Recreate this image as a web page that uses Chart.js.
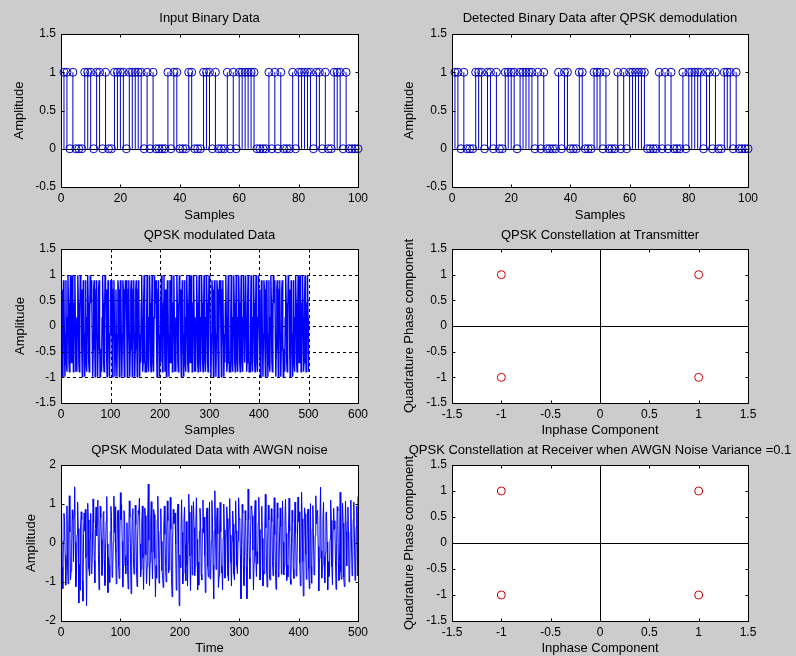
<!DOCTYPE html>
<html><head><meta charset="utf-8">
<script src="https://cdn.jsdelivr.net/npm/chart.js@4"></script>
<style>
html,body{margin:0;padding:0;width:796px;height:656px;overflow:hidden;background:#cccccc;}
canvas{position:absolute;}
</style></head><body>
<script>
// ---------- DATA ----------
const binarySamples = Array.from({length:100},(_, i)=>i+1);
const inputBits = [
1,1,0,1,0,0,0,1,1,1,
0,1,1,0,1,0,0,1,1,1,
1,0,1,1,1,1,1,0,1,0,
1,0,0,0,0,1,0,1,1,0,
0,0,1,1,0,0,0,1,1,1,
0,1,0,0,0,1,0,1,0,1,
1,1,1,1,1,0,0,0,0,1,
0,1,0,1,0,0,0,1,0,1,
1,1,1,1,0,1,1,0,1,0,
0,1,1,1,0,1,0,0,0,0];
const detectedBits = [
1,1,0,1,0,0,0,1,1,1,
0,1,1,0,1,0,0,1,1,1,
1,0,1,1,1,1,1,0,1,0,
1,0,0,0,0,1,0,1,1,0,
0,0,1,1,0,0,0,1,1,1,
0,1,0,0,0,1,0,1,0,1,
1,1,1,1,1,0,0,0,0,1,
0,1,0,1,0,0,0,1,0,1,
1,1,1,1,0,1,1,0,1,0,
0,1,1,1,0,1,0,0,0,0];
const binaryXTicks = [0,20,40,60,80,100];
const binaryYTicks = [-0.5,0,0.5,1,1.5];

const txSignal = [
.71,-.45,-.99,-.16,.89,.71,-.45,-.99,-.16,.89,
-.71,-.89,.16,.99,.45,-.71,-.89,.16,.99,.45,
-.71,.45,.99,.16,-.89,-.71,.45,.99,.16,-.89,
-.71,-.89,.16,.99,.45,-.71,-.89,.16,.99,.45,
.71,-.45,-.99,-.16,.89,.71,-.45,-.99,-.16,.89,
-.71,-.89,.16,.99,.45,-.71,-.89,.16,.99,.45,
.71,.89,-.16,-.99,-.45,.71,.89,-.16,-.99,-.45,
.71,.89,-.16,-.99,-.45,.71,.89,-.16,-.99,-.45,
-.71,-.89,.16,.99,.45,-.71,-.89,.16,.99,.45,
.71,-.45,-.99,-.16,.89,.71,-.45,-.99,-.16,.89,
.71,.89,-.16,-.99,-.45,.71,.89,-.16,-.99,-.45,
.71,-.45,-.99,-.16,.89,.71,-.45,-.99,-.16,.89,
.71,-.45,-.99,-.16,.89,.71,-.45,-.99,-.16,.89,
.71,.89,-.16,-.99,-.45,.71,.89,-.16,-.99,-.45,
.71,.89,-.16,-.99,-.45,.71,.89,-.16,-.99,-.45,
.71,.89,-.16,-.99,-.45,.71,.89,-.16,-.99,-.45,
-.71,.45,.99,.16,-.89,-.71,.45,.99,.16,-.89,
-.71,-.89,.16,.99,.45,-.71,-.89,.16,.99,.45,
-.71,-.89,.16,.99,.45,-.71,-.89,.16,.99,.45,
.71,.89,-.16,-.99,-.45,.71,.89,-.16,-.99,-.45,
-.71,.45,.99,.16,-.89,-.71,.45,.99,.16,-.89,
.71,-.45,-.99,-.16,.89,.71,-.45,-.99,-.16,.89,
-.71,.45,.99,.16,-.89,-.71,.45,.99,.16,-.89,
-.71,-.89,.16,.99,.45,-.71,-.89,.16,.99,.45,
.71,-.45,-.99,-.16,.89,.71,-.45,-.99,-.16,.89,
-.71,-.89,.16,.99,.45,-.71,-.89,.16,.99,.45,
-.71,.45,.99,.16,-.89,-.71,.45,.99,.16,-.89,
-.71,-.89,.16,.99,.45,-.71,-.89,.16,.99,.45,
-.71,-.89,.16,.99,.45,-.71,-.89,.16,.99,.45,
-.71,-.89,.16,.99,.45,-.71,-.89,.16,.99,.45,
.71,-.45,-.99,-.16,.89,.71,-.45,-.99,-.16,.89,
.71,-.45,-.99,-.16,.89,.71,-.45,-.99,-.16,.89,
.71,.89,-.16,-.99,-.45,.71,.89,-.16,-.99,-.45,
-.71,.45,.99,.16,-.89,-.71,.45,.99,.16,-.89,
-.71,-.89,.16,.99,.45,-.71,-.89,.16,.99,.45,
-.71,-.89,.16,.99,.45,-.71,-.89,.16,.99,.45,
-.71,-.89,.16,.99,.45,-.71,-.89,.16,.99,.45,
-.71,.45,.99,.16,-.89,-.71,.45,.99,.16,-.89,
-.71,-.89,.16,.99,.45,-.71,-.89,.16,.99,.45,
-.71,-.89,.16,.99,.45,-.71,-.89,.16,.99,.45,
.71,-.45,-.99,-.16,.89,.71,-.45,-.99,-.16,.89,
.71,-.45,-.99,-.16,.89,.71,-.45,-.99,-.16,.89,
-.71,-.89,.16,.99,.45,-.71,-.89,.16,.99,.45,
.71,.89,-.16,-.99,-.45,.71,.89,-.16,-.99,-.45,
.71,.89,-.16,-.99,-.45,.71,.89,-.16,-.99,-.45,
-.71,-.89,.16,.99,.45,-.71,-.89,.16,.99,.45,
.71,-.45,-.99,-.16,.89,.71,-.45,-.99,-.16,.89,
-.71,-.89,.16,.99,.45,-.71,-.89,.16,.99,.45,
-.71,.45,.99,.16,-.89,-.71,.45,.99,.16,-.89,
-.71,.45,.99,.16,-.89,-.71,.45,.99,.16,-.89];
const txXTicks = [0,100,200,300,400,500,600];
const txYTicks = [-1.5,-1,-0.5,0,0.5,1,1.5];

const rxSignal = [
.82,-.61,-1.17,.05,.76,.58,-.31,-1.08,-.42,.95,
-.62,-1.05,.33,1.21,.28,-.94,-.72,-.08,.85,.61,
-.48,.72,1.44,.02,-1.12,-.83,.21,1.05,.37,-1.54,
-.55,-1.21,.41,.8,.6,-.97,-1.49,.24,.77,.31,
.86,-.38,-1.61,-.31,1.02,.59,-.66,-.84,.12,.76,
-.79,-.74,-.05,1.13,.52,-.45,-1.02,.37,.92,.18,
.49,1.1,-.29,-1.2,-.21,.94,.66,.09,-.83,-.63,
.77,.81,-.43,-1.09,-.17,.55,1.19,-.02,-1.27,-.36,
-.58,-1.01,.29,.94,.68,-.88,-.7,.02,1.2,.27,
.93,-.24,-1.05,-.37,.69,.84,-.58,-.91,.11,1.29,
.6,.98,.04,-1.13,-.59,.83,.71,-.35,-.79,-.3,
.52,-.6,-1.18,-.01,1.08,.66,-.27,-1.3,-.22,.74,
.88,-.49,-.8,-.35,.97,.47,-.62,-1.12,.06,.83,
.74,1.15,-.02,-.87,-.66,.52,.95,-.39,-1.19,-.25,
.9,.7,-.31,-1.04,-.6,.63,1.51,.07,-1.1,-.49,
.55,1.06,-.24,-.92,-.21,.86,.73,-.4,-1.38,-.58,
-.9,.6,1.2,.31,-1.03,-.52,.3,.88,.04,-.71,
-.84,-1.14,.35,.95,.22,-.6,-1,.28,1.08,.57,
-.77,-.69,.01,1.17,.36,-.89,-1.38,.12,.86,.5,
.62,.77,-.03,-1.21,-.64,.88,1,-.27,-1.61,-.3,
-.63,.29,1.11,.27,-1.05,-.78,.58,.92,-.05,-.97,
.55,-.57,-1.1,.03,1.25,.79,-.33,-1.22,-.28,.96,
-.82,.37,1.06,.4,-.84,-.6,.54,1.16,.1,-1.2,
-.49,-1.08,.3,.89,.62,-.8,-.95,.36,1.1,.26,
.66,-.32,-1.27,-.2,.81,.9,-.6,-.87,.02,1.05,
-.92,-.83,.05,1.09,.59,-.56,-1.43,.3,1.34,.4,
-.68,.62,.9,.23,-1.14,-.85,.36,1.04,.29,-.77,
-.6,-1.2,.13,1,.34,-.9,-.66,.21,.93,.63,
-.83,-.97,.42,1.14,.2,-.5,-1.1,.04,.82,.48,
-.8,-.95,.26,1.08,.31,-.58,-.79,.05,1.16,.6,
.62,-.3,-1.43,-.07,.99,.77,-.58,-1.09,-.35,.83,
.58,-.61,-1.43,-.25,1.38,.6,-.39,-.92,.09,.95,
.89,.7,-.18,-1.2,-.5,.77,1.09,-.33,-.86,-.22,
-.53,.51,1.17,.35,-.95,-.81,.27,.94,.12,-1.1,
-.7,-.79,.28,1.25,.39,-.64,-1.13,.05,.97,.59,
-.91,-.95,.2,.88,.55,-.47,-.84,.3,1.16,.21,
-.66,-1.19,.09,1.03,.63,-.87,-.71,.23,.9,.42,
-.8,.31,1.08,.02,-.82,-.58,.6,1.12,.25,-.96,
-.57,-.87,.38,1.15,.3,-.93,-1.06,-.02,.84,.54,
-.67,-.91,.3,1.05,.26,-.85,-.74,.1,1.18,.54,
.8,-.52,-1.1,-.19,1.3,.62,-.47,-1.36,-.04,.9,
.74,-.28,-.93,-.31,.81,.87,-.66,-1.17,-.15,1.01,
-.6,-1.03,.34,.96,.27,-.82,-.79,.19,1.21,.49,
.81,.84,-.09,-1.23,-.4,.58,1.43,-.2,-.9,-.57,
.6,1.04,-.35,-1.02,-.25,.77,.8,.03,-1.2,-.48,
-.86,-.72,.1,1.1,.58,-.6,-1.07,.33,.89,.36,
.57,-.41,-1.19,-.02,.93,.82,-.55,-.96,-.28,1.3,
-.74,-.93,.26,1.02,.51,-.88,-1.12,.08,1.07,.3,
-.59,.55,.92,.3,-1,-.83,.28,1.1,.05,-.84,
-.7,.6,1.05,.18,-.96,-.62,.4,.95,-.84,1.2];
const rxXTicks = [0,100,200,300,400,500];
const rxYTicks = [-2,-1,0,1,2];

const txConstI = [-1, 1, -1, 1];
const txConstQ = [1, 1, -1, -1];
const rxConstI = [-1, 1, -1, 1];
const rxConstQ = [1, 1, -1, -1];
const constTicks = [-1.5,-1,-0.5,0,0.5,1,1.5];

// ---------- STYLE / HELPERS ----------
const FAMILY = '"Liberation Sans", Arial, Helvetica, sans-serif';
const FONT = {family:FAMILY, size:12, weight:'normal'};
const TFONT = {family:FAMILY, size:13, weight:'normal'};
const TH = 13*1.2/2; // half line height of title fonts
const BLUE = '#0000ff', STEM = '#0000c4', RED = '#cc0000';
const fmt = v => String(Math.round(v*100)/100);
const px = v => Math.round(v) + 0.5;
function seg(c,x1,y1,x2,y2){c.beginPath();c.moveTo(x1,y1);c.lineTo(x2,y2);c.stroke();}

const matlabAxes = {
  id:'matlabAxes',
  beforeDraw(chart){
    const a=chart.chartArea,c=chart.ctx;
    c.save();c.fillStyle='#ffffff';c.fillRect(a.left,a.top,a.right-a.left,a.bottom-a.top);c.restore();
  },
  beforeDatasetsDraw(chart,args,o){
    const a=chart.chartArea,c=chart.ctx,xs=chart.scales.x,ys=chart.scales.y;
    c.save();c.lineWidth=1;c.strokeStyle='#000';
    if(o.grid){
      c.setLineDash([3,3]);
      xs.ticks.forEach(t=>{const p=xs.getPixelForValue(t.value);if(p>a.left+1&&p<a.right-1)seg(c,px(p),a.top,px(p),a.bottom);});
      ys.ticks.forEach(t=>{const p=ys.getPixelForValue(t.value);if(p>a.top+1&&p<a.bottom-1)seg(c,a.left,px(p),a.right,px(p));});
      c.setLineDash([]);
    }
    if(o.zeroY){const p=px(ys.getPixelForValue(0));seg(c,a.left,p,a.right,p);}
    if(o.zeroX){const p=px(xs.getPixelForValue(0));seg(c,p,a.top,p,a.bottom);}
    c.restore();
  },
  afterDatasetsDraw(chart){
    const a=chart.chartArea,c=chart.ctx,xs=chart.scales.x,ys=chart.scales.y,tl=3;
    const l=px(a.left),r=px(a.right),t=px(a.top),b=px(a.bottom);
    c.save();c.lineWidth=1;c.strokeStyle='#000';
    c.strokeRect(l,t,r-l,b-t);
    xs.ticks.forEach(k=>{const p=px(xs.getPixelForValue(k.value));if(p>l+1&&p<r-1){seg(c,p,b,p,b-tl);seg(c,p,t,p,t+tl);}});
    ys.ticks.forEach(k=>{const p=px(ys.getPixelForValue(k.value));if(p>t+1&&p<b-1){seg(c,l,p,l+tl,p);seg(c,r,p,r-tl,p);}});
    c.restore();
  }
};

function stemSets(xs, ys){
  const stems=[];
  xs.forEach((x,i)=>{stems.push({x,y:0},{x,y:ys[i]},{x,y:null});});
  return [
    {data:xs.map((x,i)=>({x,y:ys[i]})),showLine:false,pointStyle:'circle',pointRadius:4,
     pointBorderWidth:1,pointBorderColor:STEM,pointBackgroundColor:'rgba(0,0,0,0)',clip:false},
    {data:stems,showLine:true,spanGaps:false,borderColor:STEM,borderWidth:1,pointRadius:0}
  ];
}
function lineSet(ys,w){
  return [{data:ys.map((y,i)=>({x:i+1,y})),showLine:true,borderColor:BLUE,borderWidth:w,pointRadius:0,tension:0}];
}
function constSet(I,Q){
  return [{data:I.map((x,i)=>({x,y:Q[i]})),showLine:false,pointStyle:'circle',pointRadius:4,
    pointBorderWidth:1,pointBorderColor:RED,pointBackgroundColor:'rgba(0,0,0,0)',clip:false}];
}

const panels = [
 {L:61,T:34,W:297,B:187,ty:18,xy:215,yt:19.7,title:'Input Binary Data',xt:'Samples',ytl:'Amplitude',
  x:[0,100,binaryXTicks],y:[-0.5,1.5,binaryYTicks],ds:stemSets(binarySamples,inputBits),ax:{zeroY:true}},
 {L:452,T:34,W:296,B:187,ty:18,xy:215,yt:18.5,title:'Detected Binary Data after QPSK demodulation',xt:'Samples',ytl:'Amplitude',
  x:[0,100,binaryXTicks],y:[-0.5,1.5,binaryYTicks],ds:stemSets(binarySamples,detectedBits),ax:{zeroY:true}},
 {L:61,T:249,W:297,B:403,ty:235,xy:430,yt:20,title:'QPSK modulated Data',xt:'Samples',ytl:'Amplitude',
  x:[0,600,txXTicks],y:[-1.5,1.5,txYTicks],ds:lineSet(txSignal,1.4),ax:{grid:true}},
 {L:452,T:249,W:296,B:403,ty:235,xy:430,yt:18.5,title:'QPSK Constellation at Transmitter',xt:'Inphase Component',ytl:'Quadrature Phase component',
  x:[-1.5,1.5,constTicks],y:[-1.5,1.5,constTicks],ds:constSet(txConstI,txConstQ),ax:{zeroX:true,zeroY:true}},
 {L:61,T:465,W:297,B:621,ty:450.7,xy:648,yt:31,title:'QPSK Modulated Data with AWGN noise',xt:'Time',ytl:'Amplitude',
  x:[0,500,rxXTicks],y:[-2,2,rxYTicks],ds:lineSet(rxSignal,1),ax:{}},
 {L:452,T:465,W:296,B:621,ty:450.7,xy:648,yt:18.5,title:'QPSK Constellation at Receiver when AWGN Noise Variance =0.1',xt:'Inphase Component',ytl:'Quadrature Phase component',
  x:[-1.5,1.5,constTicks],y:[-1.5,1.5,constTicks],ds:constSet(rxConstI,rxConstQ),ax:{zeroX:true,zeroY:true}}
];

const M = 61; // side margin of each canvas around its plot box
function axisOpts(range,title,isX,p,H){
  const ticks=range[2];
  const o={type:'linear',min:range[0],max:range[1],
    afterBuildTicks:s=>{s.ticks=ticks.map(v=>({value:v}));},
    ticks:{font:FONT,color:'#000',padding:isX?4.8:5,autoSkip:false,maxRotation:0,minRotation:0,callback:v=>fmt(v)},
    grid:{display:false,drawTicks:false},border:{display:false},
    title:{display:true,text:title,font:TFONT,color:'#000',padding:isX?{top:0,bottom:0}:{top:p.yt-TH,bottom:0}}};
  if(isX){o.position='bottom';o.afterFit=s=>{s.height=H;};}
  else{o.position='left';o.afterFit=s=>{s.width=M;};}
  return o;
}
// empty right-side spacer axis so the title centres on the plot box
const spacerAxis = {type:'linear',position:'right',min:0,max:1,display:true,
  ticks:{display:false},grid:{display:false,drawTicks:false},border:{display:false},
  afterFit:s=>{s.width=M;}};

panels.forEach(p=>{
  const cv=document.createElement('canvas');
  const left=p.L-M, top=p.T-34, H=p.xy+TH-p.B;
  const width=M+p.W+M, height=Math.ceil(34+(p.B-p.T)+H+8);
  cv.width=width;cv.height=height;cv.style.left=left+'px';cv.style.top=top+'px';
  cv.style.width=width+'px';cv.style.height=height+'px';
  document.body.appendChild(cv);
  const bp=height-34-(p.B-p.T)-H;
  new Chart(cv,{type:'scatter',data:{datasets:p.ds},
    options:{responsive:false,animation:false,events:[],
      layout:{padding:{top:p.ty-TH-top,right:0,bottom:bp,left:0}},
      plugins:{legend:{display:false},tooltip:{enabled:false},
        title:{display:true,text:p.title,font:TFONT,color:'#000',padding:{top:0,bottom:p.T-p.ty-TH},fullSize:true},
        matlabAxes:p.ax},
      scales:{x:axisOpts(p.x,p.xt,true,p,H),y:axisOpts(p.y,p.ytl,false,p,H),ySpacer:spacerAxis}},
    plugins:[matlabAxes]});
});
</script>
</body></html>
